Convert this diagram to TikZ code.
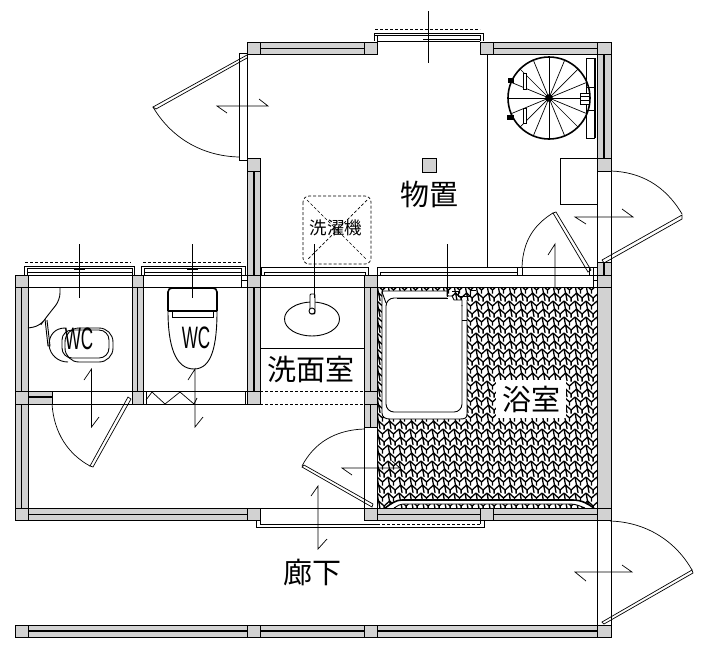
\documentclass[tikz,border=0pt]{standalone}
\usepackage{fontspec}
\setmainfont{Liberation Sans}
\newfontfamily\jpfont{Noto Sans CJK JP}
\tikzset{
    wall/.style={draw=black,fill=wallgray,line width=0.9pt},
    line/.style={line width=0.9pt},
    core/.style={line width=1.6pt},
    swing/.style={line width=0.7pt},
    hidden/.style={line width=0.7pt,dash pattern=on 3pt off 2pt},
    room/.style={font=\jpfont\fontsize{29}{29}\selectfont,inner sep=0pt},
    wclabel/.style={font=\fontsize{31}{31}\selectfont,inner sep=0pt},
}
\definecolor{wallgray}{RGB}{210,210,210}
\begin{document}
\begin{tikzpicture}[x=1pt,y=-1pt]
    \useasboundingbox (0,0) rectangle (708,649);
    % bathroom floor
    \begin{scope}
        \clip (377,287) rectangle (597,508);
        \foreach \r in {0,...,27}
            \foreach \c in {0,...,20}{
                \pgfmathsetmacro{\sx}{377+\c*11+1.6*mod(\r,2)}
                \pgfmathsetmacro{\sy}{285+\r*8}
                \draw[line width=1.3pt] (\sx,\sy) -- (\sx+5.5,\sy+5) -- (\sx+11,\sy)
                    (\sx+5.5,\sy+5) -- (\sx+5.5,\sy+8.5)
                    (\sx,\sy) -- (\sx+1.5,\sy+8);
            }
    \end{scope}
    \fill[white] (382,291) -- (447,291) -- (447,296) -- (452,296) -- (454,300) -- (467,300) -- (467,419) -- (386,419) [rounded corners=4pt] -- (382,415) -- cycle;
    \draw[line] (467,300) -- (467,414) .. controls (467,418) and (465,419) .. (460,419) -- (390,419) .. controls (385,419) and (382,417) .. (382,413) -- (382,291) -- (447,291);
    \draw[line] (397,298) -- (448,298);
    \draw[line,rounded corners=8pt] (447,298) -- (386,298) -- (386,412) -- (462,412) -- (462,305);
    \draw[line] (382,292) -- (386,303);
    \draw[line] (447,288) -- (447,296) -- (452,296) -- (454,300) -- (462,300) -- (462,306);
    \draw[line] (452,291) -- (458,291) -- (458,296) -- (470,296) -- (470,290) -- (476,290);
    \draw[line] (462,320) -- (467,320);
    \fill[white] (385,508) .. controls (392,503) and (396,500) .. (402,500) -- (573,500) .. controls (582,500) and (588,504) .. (594,508) -- (585,508) .. controls (580,506) and (576,504) .. (570,504) -- (404,504) .. controls (400,504) and (397,506) .. (394,508) -- cycle;
    \draw[core] (385,508) .. controls (392,503) and (396,500) .. (402,500) -- (573,500) .. controls (582,500) and (588,504) .. (594,508);
    \draw[line] (394,508) .. controls (397,506) and (400,504) .. (404,504) -- (570,504) .. controls (576,504) and (580,506) .. (585,508);
    % walls
    \foreach \xa/\ya/\xb/\yb in {15/275/28/287,132/275/143/287,247/275/260/287,364/275/377/287,597/275/611/287,
        15/391/28/404,132/391/143/404,247/391/260/404,364/391/377/404,15/508/28/520,247/508/260/520,364/508/377/520,480/508/493/520,597/508/611/520,
        15/625/28/637,247/625/260/637,364/625/377/637,597/625/611/637,247/42/260/54,364/42/377/54,480/42/493/54,597/42/611/54,247/158/260/171,597/158/611/171,422/158/436/172}
        \draw[wall] (\xa,\ya) rectangle (\xb,\yb);
    \draw[wall] (260,42) rectangle (364,54);
    \draw[line] (260,48) -- (364,48);
    \draw[wall] (493,42) rectangle (597,54);
    \draw[line] (493,48) -- (597,48);
    \draw[wall] (597,54) rectangle (611,158);
    \draw[core] (604,54) -- (604,158);
    \draw[wall] (247,171) rectangle (260,275);
    \draw[core] (254,171) -- (254,275);
    \draw[wall] (597,262) rectangle (611,275);
    \draw[core] (604,262) -- (604,275);
    \draw[wall] (597,287) rectangle (611,508);
    \draw[wall] (15,287) rectangle (28,391);
    \draw[core] (21.5,287) -- (21.5,391);
    \draw[wall] (132,287) rectangle (143,391);
    \draw[line] (137.5,287) -- (137.5,391);
    \draw[wall] (247,287) rectangle (260,391);
    \draw[core] (254,287) -- (254,391);
    \draw[wall] (364,287) rectangle (377,391);
    \draw[core] (370.5,287) -- (370.5,391);
    \draw[wall] (364,404) rectangle (377,427);
    \draw[line] (370.5,404) -- (370.5,427);
    \draw[wall] (15,404) rectangle (28,508);
    \draw[core] (21.5,404) -- (21.5,508);
    \draw[wall] (28,391) rectangle (52,404);
    \draw[core] (28,397) -- (52,397);
    \draw[wall] (28,508) rectangle (247,520);
    \draw[line] (28,514) -- (247,514);
    \draw[wall] (377,508) rectangle (480,520);
    \draw[line] (377,514) -- (480,514);
    \draw[wall] (493,508) rectangle (597,520);
    \draw[line] (493,514) -- (597,514);
    \foreach \xa/\xb in {28/247,260/364,377/597}{
        \draw[wall] (\xa,625) rectangle (\xb,637);
        \draw[core] (\xa,631) -- (\xb,631);
    }
    % openings
    \foreach \xa/\xb in {28/132,143/247,260/364,377/597}{
        \draw[line] (\xa,275) -- (\xb,275);
        \draw[line] (\xa,287) -- (\xb,287);
    }
    \draw[line] (52,391) -- (132,391);
    \draw[line] (52,404) -- (132,404);
    \draw[line] (28,391) -- (52,391);
    \draw[line] (143,391) -- (247,391);
    \draw[line] (143,404) -- (247,404);
    \draw[hidden] (260,391) -- (364,391);
    \draw[hidden] (260,404) -- (364,404);
    \draw[line] (260,348) -- (364,348);
    \draw[line] (146,391) -- (146,404);
    \draw[line] (245,391) -- (245,404);
    \draw[swing] (146,400) -- (152,392) -- (165,404) -- (180,392) -- (194,404) -- (197,398);
    \draw[line] (247,54) -- (247,158);
    \draw[line] (239,53) rectangle (247,160);
    \draw[line] (487,54) -- (487,267);
    \draw[line] (560,204) rectangle (597,158);
    \draw[line] (597,171) -- (597,262);
    \draw[line] (611,171) -- (611,262);
    \draw[line] (597,520) -- (597,625);
    \draw[line] (611,520) -- (611,625);
    \draw[line] (364,427) -- (364,508);
    \draw[line] (377,427) -- (377,508);
    \draw[line] (260,508) -- (364,508);
    \draw[line] (597,508) -- (611,508);
    % windows
    \draw[line] (374,41) -- (374,33) -- (483,33) -- (483,41);
    \draw[line] (377,41) -- (377,35) -- (480,35) -- (480,41);
    \draw[line] (377,41) -- (480,41);
    \draw[hidden] (375,29) -- (480,29);
    \draw[line] (24,275) -- (24,266) -- (134,266) -- (134,275);
    \draw[line] (27,275) -- (27,268) -- (132,268) -- (132,275);
    \draw[line] (28,272) -- (132,272);
    \draw[hidden] (25,262) -- (131,262);
    \draw[line] (141,275) -- (141,266) -- (245,266) -- (245,275);
    \draw[line] (144,275) -- (144,268) -- (241,268) -- (241,275);
    \draw[line] (144,272) -- (241,272);
    \draw[hidden] (143,262) -- (243,262);
    \draw[line] (241,275) rectangle (247,287);
    \draw[line] (241,280) -- (247,280);
    \draw[line] (261,275) -- (261,267) -- (368,267) -- (368,275);
    \draw[line] (264,275) -- (264,272) -- (365,272) -- (365,275);
    \draw[line] (377,275) -- (377,267) -- (522,267);
    \draw[line] (380,275) -- (380,272) -- (517,272);
    \draw[line] (517,267) -- (517,275);
    \draw[line] (522,267) -- (522,275);
    \draw[line] (522,267) -- (597,267);
    \draw[line] (589,267) -- (589,275);
    \draw[line] (593,267) -- (593,287);
    \draw[line] (593,280) -- (597,280);
    \draw[line] (256,521) -- (256,527) -- (484,527) -- (484,521);
    \draw[line] (260,521) -- (260,524) -- (377,524);
    \draw[hidden] (377,524) -- (480,524);
    \draw[line] (480,524) -- (480,521);
    % doors
    \draw[swing] (247,55) -- (153,107) -- (156,109) -- (247,58);
    \draw[swing] (153,107) .. controls (170,136) and (200,156) .. (239,157);
    \draw[swing] (682,215) -- (602,260) -- (604,263) -- (682,219) -- cycle;
    \draw[swing] (682,214) .. controls (665,185) and (640,172) .. (611,171);
    \draw[swing] (553,213) -- (588,272) -- (591,270) -- (556,212) -- cycle;
    \draw[swing] (553,213) .. controls (535,224) and (523,240) .. (522,267);
    \draw[swing] (692,570) -- (602,622) -- (604,624) -- (693,573) -- cycle;
    \draw[swing] (692,570) .. controls (675,540) and (645,522) .. (610,521);
    \draw[swing] (302,467) -- (372,507) -- (373,504) -- (304,465) -- cycle;
    \draw[swing] (302,466) .. controls (314,443) and (335,430) .. (364,429);
    \draw[swing] (90,466) -- (128,397) -- (131,399) -- (93,467) -- cycle;
    \draw[swing] (52,404) .. controls (54,433) and (68,454) .. (90,466);
    % stairs
    \foreach \a in {0,22.5,...,337.5}
        \draw[swing] (549,98) -- ++(\a:41);
    \draw[line width=1.6pt] (549,98) circle [radius=41];
    \fill (549,98) circle [radius=3.8];
    \draw[line] (586,58) rectangle (594,138);
    \draw[line] (586,87) -- (594,87);
    \draw[line] (586,110) -- (594,110);
    \draw[core] (595,58) -- (595,138);
    \draw[fill=white,line] (580,93) rectangle (589,104);
    \draw[line] (580,96.5) -- (589,96.5);
    \draw[line] (580,100) -- (589,100);
    \draw[line,fill=white] (523.5,73) rectangle (526.5,89);
    \draw[line,fill=white] (523.5,108) rectangle (526.5,123);
    \fill (508,78) rectangle (514,83);
    \fill (507,115) rectangle (514,120);
    % sink
    \draw[line] (312,319) ellipse [x radius=27.5,y radius=17];
    \draw[line,fill=white,rounded corners=1pt] (310,294) rectangle (315,314);
    \draw[line,fill=white] (312,311) circle [radius=3];
    % washing machine
    \draw[hidden,rounded corners=6pt] (303,196) rectangle (371,264);
    \draw[hidden] (307,200) -- (367,260);
    \draw[hidden] (367,200) -- (307,260);
    % toilets
    \draw[line,rounded corners=7pt] (60,287) -- (60,300) -- (52,310) -- (45,319) -- (40,326) -- (28,328);
    \draw[line] (45,319) -- (48,346) -- (50,346) -- (47,320);
    \draw[line,rounded corners=14pt] (65,328) rectangle (113,362);
    \draw[line] (65,328) .. controls (55,328) and (49,335) .. (49,345) .. controls (50,355) and (58,362) .. (68,362);
    \draw[line,rounded corners=10pt] (62,330) rectangle (109,358);
    \draw[core,rounded corners=4pt] (168,311) -- (168,288) -- (217,288) -- (217,311);
    \draw[core] (168,311) -- (217,311);
    \draw[line] (172,311) -- (172,317) -- (213,317) -- (213,311);
    \draw[line] (168,311) .. controls (168,345) and (175,369) .. (194,369) .. controls (212,369) and (217,345) .. (217,311);
    % labels
    \node[room] (storage) at (429,194) {物置};
    \node[room] (washroom) at (311,369) {洗面室};
    \node[room,fill=white,minimum width=70pt,minimum height=38pt] (bath) at (531,399) {浴室};
    \node[room] (hall) at (312,573) {廊下};
    \node[font=\jpfont\fontsize{17.5}{17.5}\selectfont,inner sep=0pt] (washer) at (336,228) {洗濯機};
    \node[wclabel] (wcleft) at (79,339) {\scalebox{0.55}[1]{WC}};
    \node[wclabel] (wcright) at (196,338) {\scalebox{0.55}[1]{WC}};
    % swing marks
    \draw[swing] (227,113) -- (217,106) -- (268,106) -- (259,99);
    \draw[swing] (428,11) -- (428,63);
    \draw[swing] (374,35) -- (434,35);
    \draw[swing] (423,39) -- (481,39);
    \draw[swing] (586,224) -- (575,217) -- (633,217) -- (622,209);
    \draw[swing] (548,255) -- (555,244) -- (555,290);
    \draw[swing] (586,581) -- (575,572) -- (632,572) -- (622,565);
    \draw[swing] (352,475) -- (342,468) -- (400,468) -- (392,461);
    \draw[swing] (311,496) -- (318,486) -- (318,549) -- (327,539);
    \draw[swing] (84,380) -- (91.5,369) -- (91.5,427) -- (99,417);
    \draw[swing] (188,380) -- (195,369) -- (195,427) -- (203,417);
    \draw[swing] (79.5,244) -- (79.5,298);
    \draw[swing] (74,269) -- (85,269);
    \draw[swing] (192.5,244) -- (192.5,298);
    \draw[swing] (187,269) -- (198,269);
    \draw[swing] (314,244) -- (314,298);
    \draw[swing] (309,272) -- (320,272);
    \draw[swing] (447,244) -- (447,297);
    \draw[swing] (442,272) -- (453,272);
\end{tikzpicture}
\end{document}
